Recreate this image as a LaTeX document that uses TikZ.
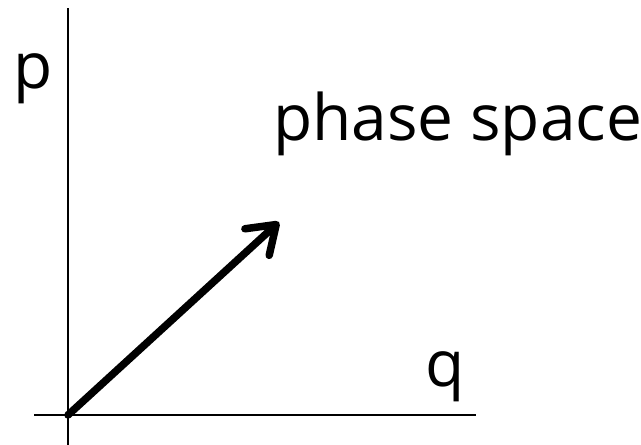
\documentclass[tikz,border=0pt]{standalone}
\usepackage{fontspec}
\setmainfont{Open Sans}
\usetikzlibrary{arrows.meta}

\begin{document}
\begin{tikzpicture}[x=1pt,y=1pt,
        axis/.style={line width=2pt},
        vec/.style={line width=7.5pt,line cap=round,-{Straight Barb[length=26pt,width=36pt,round]}},
        lbl/.style={inner sep=0pt,anchor=base west,font=\fontsize{64}{64}\selectfont}]
        \useasboundingbox (0,0) rectangle (641,445);
        % axes
        \coordinate (O) at (68,30);
        \coordinate (top) at (68,437);
        \coordinate (bot) at (68,0);
        \coordinate (left) at (34,30);
        \coordinate (right) at (476,30);
        \draw[axis] (bot) -- (top);
        \draw[axis] (left) -- (right);
        % labels
        \node[lbl] (p) at (13,356) {p};
        \node[lbl] (q) at (425,58) {q};
        \node[lbl] (ps) at (273,304) {phase space};
        % vector
        \coordinate (tip) at (279,223);
        \draw[vec] (O) -- (tip);
    \end{tikzpicture}
\end{document}
